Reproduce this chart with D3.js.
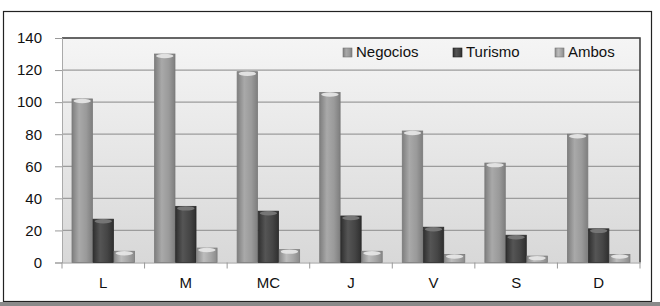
<!DOCTYPE html>
<html><head><meta charset="utf-8">
<script src="https://cdn.jsdelivr.net/npm/d3@7"></script>
<style>body{margin:0;background:#fff}svg{display:block}</style>
</head><body>
<script>
const categories = ["L","M","MC","J","V","S","D"];
const negocios = [102,130,119,106,82,62,80];
const turismo  = [27,35,32,29,22,17,21];
const ambos    = [7,9,8,7,5,4,5];
const seriesNames = ["Negocios","Turismo","Ambos"];
const yTicks = [0,20,40,60,80,100,120,140];

const W=660,H=306;
const svg=d3.select("body").append("svg").attr("width",W).attr("height",H);
const defs=svg.append("defs");
const bg=defs.append("linearGradient").attr("id","bg").attr("x1",0).attr("y1",0).attr("x2",0).attr("y2",1);
bg.append("stop").attr("offset","0%").attr("stop-color","#f5f5f5");
bg.append("stop").attr("offset","100%").attr("stop-color","#d8d8d8");

const colors={Negocios:["#7e7e7e","#a9a9a9","#9a9a9a"],Turismo:["#2f2f2f","#555555","#454545"],Ambos:["#8a8a8a","#bdbdbd","#a5a5a5"]};
seriesNames.forEach(s=>{
  const g=defs.append("linearGradient").attr("id","g"+s).attr("x1",0).attr("y1",0).attr("x2",1).attr("y2",0);
  const c=colors[s];
  g.append("stop").attr("offset","0%").attr("stop-color",c[0]);
  g.append("stop").attr("offset","35%").attr("stop-color",c[1]);
  g.append("stop").attr("offset","70%").attr("stop-color",c[2]);
  g.append("stop").attr("offset","100%").attr("stop-color",c[0]);
});

// outer frame
svg.append("rect").attr("x",3.5).attr("y",11.5).attr("width",648).attr("height",290).attr("fill","#fff").attr("stroke","#222").attr("stroke-width",1.2);
svg.append("rect").attr("x",0).attr("y",302).attr("width",W).attr("height",4).attr("fill","#8a8a8a");

const m={l:62,t:38,r:640,b:262.5};
const x=d3.scaleBand().domain(categories).range([m.l,m.r]).paddingInner(0).paddingOuter(0);
const xs=d3.scaleBand().domain(seriesNames).range([10,72.5]).paddingInner(0.03).paddingOuter(0);
const y=d3.scaleLinear().domain([0,140]).range([m.b,m.t]);

svg.append("rect").attr("x",m.l).attr("y",m.t).attr("width",m.r-m.l).attr("height",m.b-m.t).attr("fill","url(#bg)");

// gridlines
svg.append("g").selectAll("line").data(yTicks.slice(1)).join("line")
  .attr("x1",m.l).attr("x2",m.r).attr("y1",d=>y(d)).attr("y2",d=>y(d))
  .attr("stroke","#9c9c9c").attr("stroke-width",1.2);
// plot border top/right
svg.append("path").attr("d",`M${m.l},${m.t}H${m.r}V${m.b}`).attr("fill","none").attr("stroke","#444").attr("stroke-width",1.6);

// y axis
const yAxis=svg.append("g").attr("transform",`translate(${m.l},0)`)
  .call(d3.axisLeft(y).tickValues(yTicks).tickSize(7).tickPadding(13));
yAxis.select(".domain").attr("stroke","#aaa");
yAxis.selectAll(".tick line").attr("stroke","#999");
yAxis.selectAll("text").attr("font-family","Liberation Sans, Arial, sans-serif").attr("font-size",15).attr("fill","#111");

// x axis
const xAxis=svg.append("g").attr("transform",`translate(0,${m.b})`)
  .call(d3.axisBottom(x).tickSize(0).tickPadding(15));
xAxis.select(".domain").attr("stroke","#999").attr("stroke-width",1.2);
xAxis.selectAll("text").attr("font-family","Liberation Sans, Arial, sans-serif").attr("font-size",15).attr("fill","#111");
svg.append("g").selectAll("line").data(d3.range(categories.length+1)).join("line")
  .attr("x1",i=>m.l+i*x.bandwidth()).attr("x2",i=>m.l+i*x.bandwidth())
  .attr("y1",m.b).attr("y2",m.b+6).attr("stroke","#999");

// bars
const data=categories.map((c,i)=>({c,vals:[{s:"Negocios",v:negocios[i]},{s:"Turismo",v:turismo[i]},{s:"Ambos",v:ambos[i]}]}));
const grp=svg.append("g").selectAll("g").data(data).join("g").attr("transform",d=>`translate(${x(d.c)},0)`);
const bar=grp.selectAll("g").data(d=>d.vals).join("g");
bar.append("rect").attr("x",d=>xs(d.s)).attr("width",xs.bandwidth()).attr("y",d=>y(d.v)).attr("height",d=>m.b-y(d.v))
  .attr("fill",d=>`url(#g${d.s})`).attr("stroke",d=>d.s==="Turismo"?"#2a2a2a":"#7a7a7a").attr("stroke-width",0.8);
bar.append("ellipse").attr("cx",d=>xs(d.s)+xs.bandwidth()/2).attr("cy",d=>y(d.v)+2).attr("rx",xs.bandwidth()/2-1.5).attr("ry",2.2)
  .attr("fill",d=>d.s==="Turismo"?"#7a7a7a":"#e8e8e8").attr("opacity",0.9);

// legend
const legX=[343,453,555];
const leg=svg.append("g").selectAll("g").data(seriesNames).join("g").attr("transform",(d,i)=>`translate(${legX[i]},48)`);
leg.append("rect").attr("width",9).attr("height",9).attr("fill",d=>`url(#g${d})`).attr("stroke",d=>d==="Turismo"?"#222":"#777").attr("stroke-width",0.6);
leg.append("text").attr("x",13).attr("y",9).text(d=>d).attr("font-family","Liberation Sans, Arial, sans-serif").attr("font-size",15).attr("fill","#111");
</script>
</body></html>
